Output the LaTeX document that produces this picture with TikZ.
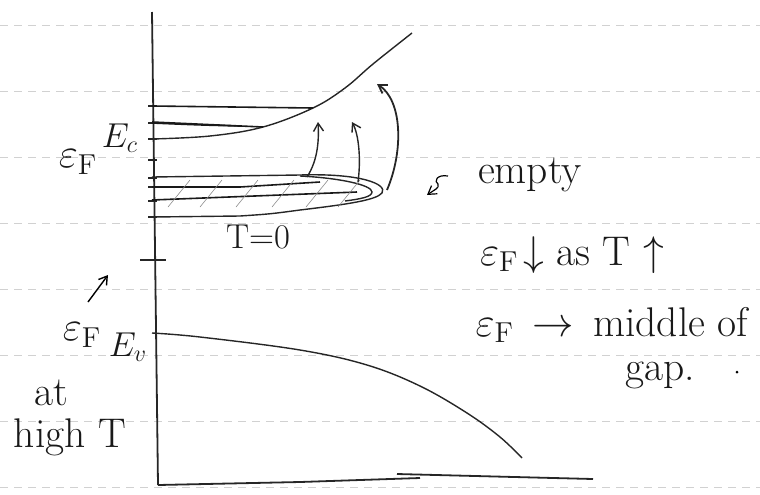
\documentclass[tikz,border=0pt]{standalone}
\usepackage{fontspec}
\usepackage{amsmath}
\usetikzlibrary{arrows.meta}

\begin{document}
\begin{tikzpicture}[
    x=0.5pt, y=-0.5pt,
    >={Straight Barb[length=4pt, width=5pt]},
    band/.style={
        line width=0.7pt, black!85
    },
    level/.style={
        line width=0.8pt, black!90
    },
    hatch/.style={
        line width=0.3pt, black!45
    },
    ruled/.style={
        line width=0.4pt, black!18, dash pattern=on 4pt off 3pt
    },
    hand/.style={
        font=\huge, inner sep=0pt, text=black!90
    },
    smallhand/.style={
        font=\LARGE, inner sep=0pt, text=black!90
    },
    excite/.style={
        ->, line width=0.7pt, black!85
    }
]

\useasboundingbox (0,0) rectangle (760,494);

% ── Ruled paper lines ──
\foreach \yy in {25,91,157,223,289,355,421,487}
    \draw[ruled] (0,\yy) -- (760,\yy);

% ── Axes ──
\coordinate (top) at (152,12);
\coordinate (origin) at (158,485);
\coordinate (xend) at (593,479);
\draw[band, line width=0.9pt] (top) -- (origin);
\draw[band, line width=0.9pt] (origin) -- (300,482) -- (420,478);
\draw[band, line width=0.9pt] (397,474) -- (xend);

% ticks on the energy axis
\foreach \yy in {106,123,139,160,178,187,201,217}
    \draw[band] (148,\yy) -- (157,\yy);
\draw[band, line width=1.1pt] (140,260) -- (166,260);

% ── Conduction band ──
\draw[band] plot[smooth, tension=0.6] coordinates
    {(152,139) (210,136) (263,127) (313,108) (345,88) (373,64) (412,33)};
\draw[level] (152,106) -- (313,108);
\draw[level] (152,122) -- (263,127);
\draw[level] (152,123) .. controls (200,125) .. (240,126);

% ── Impurity band (T = 0) ──
\draw[band] (152,177) -- (300,175)
    .. controls (360,173) and (388,184) .. (382,193)
    .. controls (376,200) and (350,204) .. (300,210)
    .. controls (270,214) .. (240,216) -- (152,217);
\draw[band] (300,176) .. controls (340,178) and (372,185) .. (372,192)
    .. controls (372,197) and (360,199) .. (345,201);
\draw[level] (152,187) -- (240,187) -- (320,182);
\draw[level] (152,200) -- (357,192);
\foreach \xx in {168,200,236,272,306,338}
    \draw[hatch] (\xx,207) -- (\xx+22,180);

% ── Thermal excitation ──
\coordinate (a1s) at (307,177);
\coordinate (a1e) at (318,122);
\coordinate (a2s) at (358,182);
\coordinate (a2e) at (352,122);
\coordinate (a3s) at (387,190);
\coordinate (a3e) at (377,84);
\draw[excite] (a1s) .. controls (318,160) and (319,140) .. (a1e);
\draw[excite] (a2s) .. controls (361,160) and (359,135) .. (a2e);
\draw[excite, line width=0.9pt] (a3s) .. controls (404,150) and (402,100) .. (a3e);

% ── Valence band ──
\draw[band] plot[smooth, tension=0.6] coordinates
    {(152,333) (200,337) (300,350) (367,365) (420,386) (467,413) (500,437) (522,458)};

% ── Labels ──
\node[smallhand] (ec) at (120,138) {$E_c$};
\node[hand] (efup) at (78,162) {$\varepsilon_{\mathrm F}$};
\node[smallhand] (tzero) at (258,237) {T${=}$0};

\node[hand] (empty) at (530,175) {empty};
\coordinate (sq) at (448,176);
\coordinate (sqend) at (427,195);
\draw[->, line width=0.6pt] (sq) .. controls (436,174) and (434,182) .. (438,184)
    .. controls (440,188) and (434,190) .. (sqend);

\node[hand] (trend) at (572,255) {$\varepsilon_{\mathrm F}\!\downarrow$ as T $\uparrow$};
\node[hand] (mid) at (612,325) {$\varepsilon_{\mathrm F}\,\to\,$ middle of};
\node[hand] (gap) at (660,375) {gap.};
\fill (737,372) circle (1.5);

\node[hand] (eflow) at (82,335) {$\varepsilon_{\mathrm F}$};
\node[smallhand] (ev) at (128,347) {$E_v$};
\coordinate (shift) at (108,275);
\draw[->, line width=0.7pt] (88,302) -- (shift);
\node[hand] (at) at (51,393) {at};
\node[hand] (high) at (70,437) {high T};

\end{tikzpicture}
\end{document}
